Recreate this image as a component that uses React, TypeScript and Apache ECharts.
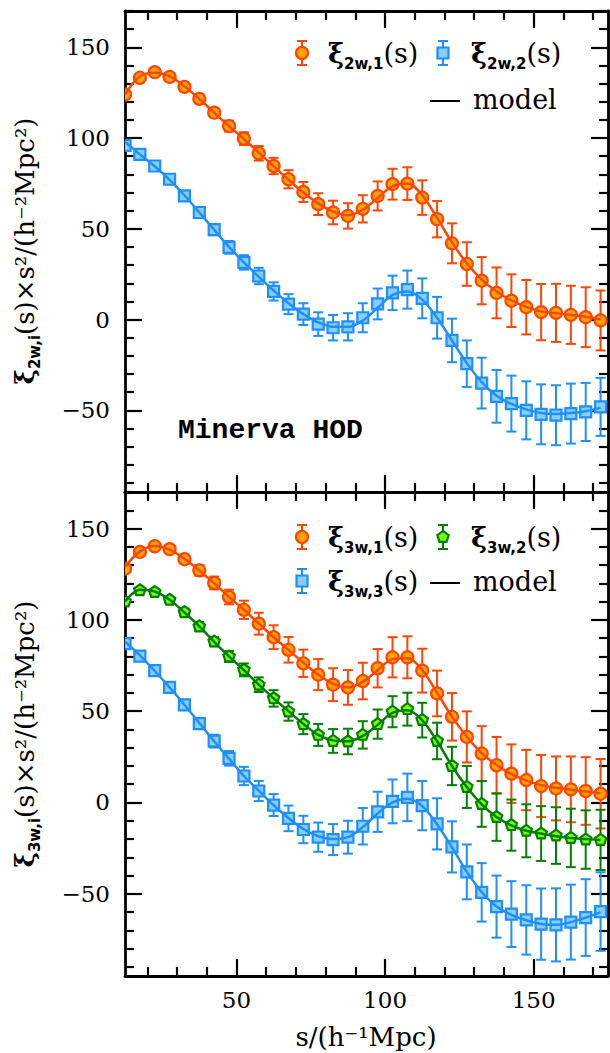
import React, { useEffect, useRef } from "react";
import * as echarts from "echarts";

// separation s (h^-1 Mpc), bin centres
const S = [12.5, 17.5, 22.5, 27.5, 32.5, 37.5, 42.5, 47.5, 52.5, 57.5, 62.5, 67.5, 72.5, 77.5, 82.5, 87.5, 92.5, 97.5, 102.5, 107.5, 112.5, 117.5, 122.5, 127.5, 132.5, 137.5, 142.5, 147.5, 152.5, 157.5, 162.5, 167.5, 172.5];

// top panel: xi_2w,1 and xi_2w,2
const xi2w1 = [124, 133.2, 136.3, 133.7, 128.2, 121.6, 114, 106.6, 99.7, 91.6, 84.6, 77.3, 70.3, 63.6, 59, 57.1, 61, 68.1, 74.6, 74.9, 67.2, 55.3, 42, 30.6, 21.4, 14.7, 10.4, 6.8, 4.1, 3.7, 2.6, 1.3, -0.5];
const xi2w1Err = [1.5, 1.5, 1.5, 2, 2, 2.5, 2.5, 3, 3.5, 4, 4.5, 5, 5.5, 6, 6.5, 7, 7.5, 8, 8.5, 9, 9.5, 10, 11, 12, 13, 14, 14.5, 15, 15.5, 16, 16, 16.5, 16.5];
const xi2w1Model = [124, 134, 136, 134, 128.5, 121.5, 114, 106.5, 99.5, 92, 84.5, 77, 70, 64, 59.5, 57.5, 60.5, 67, 73.5, 75, 68.5, 56, 42.5, 31, 22, 15.5, 10.5, 7, 4.5, 3.5, 2.5, 1.5, 0];

const xi2w2 = [96, 91, 84.6, 77.3, 68.1, 59, 49.5, 39.8, 31.5, 24, 15.5, 8.5, 3, -2.5, -4.5, -4, 1, 8.6, 14.7, 16.5, 11.7, 1, -11.5, -24.3, -35, -42.3, -46.3, -50, -52.2, -52.7, -51.8, -50.9, -48.1];
const xi2w2Err = [1.5, 1.5, 1.5, 2, 2, 2.5, 3, 3.5, 4, 4.5, 5, 5.5, 6, 6.5, 7, 7.5, 8, 8.5, 9.5, 10.5, 11, 11.5, 12, 12.8, 14, 14.5, 15.4, 16, 16.5, 16.5, 16.5, 16, 16];
const xi2w2Model = [98, 91, 84.5, 77, 68.5, 59, 49.5, 40, 31.5, 23.5, 16, 9, 3, -1.5, -4, -4, -0.5, 6.5, 13.5, 15.5, 11, 1, -11.5, -24, -34.5, -42, -46.5, -49.5, -51.5, -52, -51.5, -50.5, -48.5];

// bottom panel: xi_3w,1, xi_3w,2, xi_3w,3
const xi3w1 = [128, 137.2, 140.3, 138.7, 133.2, 127.1, 120.2, 112.5, 105.5, 97.9, 90.5, 83.6, 76.2, 70, 64.5, 63, 66.5, 73.5, 79.5, 79.5, 72.2, 59.7, 46.9, 35.9, 26.8, 20.4, 15.8, 12.3, 9, 7.7, 7.2, 6.3, 4.8];
const xi3w1Err = [1.5, 1.5, 1.5, 2, 2.5, 3, 3.5, 4, 5, 6, 6.5, 7, 7.5, 8.5, 9, 9.5, 10, 10.5, 11, 11.5, 12, 12.5, 13, 14, 15, 15.5, 16, 16.5, 17, 17.5, 18, 18.5, 19];
const xi3w1Model = [129, 137.5, 140.5, 138.5, 133.5, 127, 120, 112.5, 105.5, 98, 90.5, 83.5, 76.5, 70, 65, 63, 66, 72.5, 78.5, 79, 72.5, 60, 47, 36, 27, 20.5, 15.5, 12, 9.5, 8, 7, 6, 5];

const xi3w2 = [110, 116.2, 115.2, 111, 104.2, 96.4, 88.1, 79.9, 72.6, 64.5, 57, 49.8, 42.9, 37, 33.7, 33.4, 37, 42.9, 49.7, 51.1, 45.1, 33.7, 20, 8.5, -0.8, -8, -12.4, -15.5, -17, -18.1, -19.4, -20.3, -20.5];
const xi3w2Err = [1, 1, 1, 1.5, 2, 2.5, 2.5, 3, 3.5, 4, 4.5, 5, 5.5, 6, 6.5, 7, 7.5, 8, 8.5, 9, 9.5, 10, 10.5, 11.5, 12.5, 13, 14, 14.5, 15, 15.5, 16, 16, 16.5];
const xi3w2Model = [110, 116.5, 115.5, 111, 104, 96.5, 88, 80, 72.5, 64.5, 57, 50, 43, 37, 34, 33.5, 36.5, 42.5, 49, 50.5, 45, 33.5, 20, 8.5, -1, -8, -12.5, -15.5, -17, -18.5, -19.5, -20, -20.5];

const xi3w3 = [87, 80.1, 72.2, 63, 53.5, 43.2, 33.6, 24.2, 14.5, 6.3, -1.4, -8.7, -14.8, -19, -20.3, -19, -13, -5.1, 0.6, 2.8, -1.7, -11.7, -24.3, -38, -49.2, -57, -61.1, -64.3, -66.6, -67, -65.5, -63, -59.7];
const xi3w3Err = [1.5, 1.5, 2, 2, 2.5, 3, 3.5, 4, 5, 5.5, 6, 7, 7.5, 8, 8.5, 9, 10, 11, 12, 13, 13.5, 14, 14, 15, 16, 17, 18, 19, 19.5, 20, 20.5, 21, 21.5];
const xi3w3Model = [88, 80.5, 72, 63, 53.5, 43.5, 33.5, 24, 14.5, 6.5, -1.5, -8.5, -14.5, -18.5, -20, -19, -13.5, -6, 0, 2, -2, -12, -24.5, -38, -49, -57, -61.5, -64.5, -66.5, -67, -65.5, -63, -60];

// axes
const X_MIN = 12.5;
const X_MAX = 175;
const Y_MIN = -95;
const Y_MAX = 170;
const xMajorTicks = [50, 100, 150];
const xMinorTicks = [20, 30, 40, 60, 70, 80, 90, 110, 120, 130, 140, 160, 170];
const yMajorTicks = [-50, 0, 50, 100, 150];
const yMinorTicks = [-90, -80, -70, -60, -40, -30, -20, -10, 10, 20, 30, 40, 60, 70, 80, 90, 110, 120, 130, 140, 160, 170];

const ORANGE = { stroke: "#ff4500", fill: "#ffa500" };
const BLUE = { stroke: "#1e8fff", fill: "#87cefa" };
const GREEN = { stroke: "#008000", fill: "#7cfc00" };

const SERIF = "DejaVu Serif";

function markerEl(kind: string, cx: number, cy: number, c: any) {
  const style = { fill: c.fill, stroke: c.stroke, lineWidth: 2.2 };
  if (kind === "circle") return { type: "circle", shape: { cx, cy, r: 6 }, style };
  if (kind === "square") return { type: "rect", shape: { x: cx - 5.5, y: cy - 5.5, width: 11, height: 11 }, style };
  const pts: number[][] = [];
  for (let k = 0; k < 5; k++) {
    const a = (-90 + 72 * k) * Math.PI / 180;
    pts.push([cx + 6 * Math.cos(a), cy + 6 * Math.sin(a)]);
  }
  return { type: "polygon", shape: { points: pts }, style };
}

function errBarEls(cx: number, yHi: number, yLo: number, c: any) {
  const ls = { stroke: c.stroke, lineWidth: 2 };
  return [
    { type: "line", shape: { x1: cx, y1: yHi, x2: cx, y2: yLo }, style: ls },
    { type: "line", shape: { x1: cx - 5, y1: yHi, x2: cx + 5, y2: yHi }, style: ls },
    { type: "line", shape: { x1: cx - 5, y1: yLo, x2: cx + 5, y2: yLo }, style: ls },
  ];
}

function dataSeries(vals: number[], errs: number[], kind: string, c: any, axis: number) {
  return {
    type: "custom",
    xAxisIndex: axis,
    yAxisIndex: axis,
    clip: true,
    silent: true,
    z: 2,
    data: S.map((s, i) => [s, vals[i], errs[i]]),
    renderItem: (params: any, api: any) => {
      const x = api.value(0), y = api.value(1), e = api.value(2);
      const p = api.coord([x, y]);
      const hi = api.coord([x, y + e]);
      const lo = api.coord([x, y - e]);
      const cs = params.coordSys;
      return {
        type: "group",
        clipPath: { type: "rect", shape: { x: cs.x, y: cs.y, width: cs.width, height: cs.height } },
        children: [...errBarEls(p[0], hi[1], lo[1], c), markerEl(kind, p[0], p[1], c)],
      };
    },
  };
}

function modelSeries(model: number[], c: any, axis: number) {
  return {
    type: "line",
    xAxisIndex: axis,
    yAxisIndex: axis,
    data: S.map((s, i) => [s, model[i]]),
    smooth: 0.35,
    showSymbol: false,
    symbol: "none",
    silent: true,
    z: 3,
    clip: true,
    lineStyle: { color: c.stroke, width: 2.5 },
  };
}

const labelStyle = { fontFamily: SERIF, fontSize: 23, color: "#000" };
const minus = (v: number) => String(v).replace("-", "\u2212");

function xAxesFor(gi: number, showLabels: boolean) {
  const base = { gridIndex: gi, type: "value", min: X_MIN, max: X_MAX, splitLine: { show: false } };
  const mk = (pos: string, major: boolean, line: boolean, labels: boolean) => ({
    ...base,
    position: pos,
    axisLine: { show: line, onZero: false, lineStyle: { color: "#000", width: 2.8 } },
    axisTick: {
      show: true, inside: true, length: major ? 17 : 9,
      lineStyle: { color: "#000", width: 2.2 },
      customValues: major ? xMajorTicks : xMinorTicks,
    },
    axisLabel: { show: labels, customValues: major ? xMajorTicks : xMinorTicks, margin: 12, ...labelStyle },
  });
  return [mk("bottom", true, true, showLabels), mk("bottom", false, false, false), mk("top", true, true, false), mk("top", false, false, false)];
}

function yAxesFor(gi: number) {
  const base = { gridIndex: gi, type: "value", min: Y_MIN, max: Y_MAX, splitLine: { show: false } };
  const mk = (pos: string, major: boolean, line: boolean, labels: boolean) => ({
    ...base,
    position: pos,
    axisLine: { show: line, onZero: false, lineStyle: { color: "#000", width: 2.8 } },
    axisTick: {
      show: true, inside: true, length: major ? 17 : 9,
      lineStyle: { color: "#000", width: 2.2 },
      customValues: major ? yMajorTicks : yMinorTicks,
    },
    axisLabel: { show: labels, customValues: major ? yMajorTicks : yMinorTicks, margin: 15, formatter: minus, ...labelStyle },
  });
  return [mk("left", true, true, true), mk("left", false, false, false), mk("right", true, true, false), mk("right", false, false, false)];
}

function legendIcon(kind: string, cx: number, cy: number, c: any) {
  return { type: "group", children: [...errBarEls(cx, cy - 12, cy + 12, c), markerEl(kind, cx, cy, c)] };
}

const richXi = {
  a: { fontFamily: SERIF, fontSize: 27, lineHeight: 36, verticalAlign: "middle", fill: "#000" },
  x: { fontFamily: SERIF, fontSize: 27, fontWeight: "bold", lineHeight: 36, verticalAlign: "middle", fill: "#000" },
  b: { fontFamily: "DejaVu Sans", fontWeight: "bold", fontSize: 15, lineHeight: 15, verticalAlign: "bottom", fill: "#000" },
};

function xiLabel(sub: string, x: number, y: number) {
  return {
    type: "text", x, y,
    style: { text: `{x|ξ}{b|${sub}}{a|(s)}`, rich: richXi, align: "left", verticalAlign: "middle" },
  };
}

function modelLegend(x: number, y: number) {
  return [
    { type: "line", shape: { x1: x, y1: y + 2, x2: x + 30, y2: y + 2 }, style: { stroke: "#000", lineWidth: 2 } },
    { type: "text", x: x + 43, y, style: { text: "model", fontFamily: SERIF, fontSize: 27, fill: "#000", align: "left", verticalAlign: "middle" } },
  ];
}

function yTitle(sub: string, x: number, y: number) {
  return {
    type: "text", x, y, rotation: Math.PI / 2,
    style: {
      text: `{x|ξ}{b|${sub}}{a|(s)×s²/(h⁻²Mpc²)}`,
      rich: {
        a: { fontFamily: SERIF, fontSize: 26, lineHeight: 34, verticalAlign: "middle", fill: "#000" },
        x: { fontFamily: SERIF, fontSize: 26, fontWeight: "bold", lineHeight: 34, verticalAlign: "middle", fill: "#000" },
        b: { fontFamily: "DejaVu Sans", fontWeight: "bold", fontSize: 15, lineHeight: 15, verticalAlign: "bottom", fill: "#000" },
      },
      align: "center", verticalAlign: "middle",
    },
  };
}

export default function App() {
  const ref = useRef<HTMLDivElement>(null);
  useEffect(() => {
    if (!ref.current) return;
    const chart = echarts.init(ref.current, undefined, { renderer: "svg" });
    const option: any = {
      animation: false,
      backgroundColor: "#fff",
      grid: [
        { left: 125, width: 483, top: 11, height: 481 },
        { left: 125, width: 483, top: 492, height: 484 },
      ],
      xAxis: [...xAxesFor(0, false), ...xAxesFor(1, true)],
      yAxis: [...yAxesFor(0), ...yAxesFor(1)],
      series: [
        dataSeries(xi2w1, xi2w1Err, "circle", ORANGE, 0),
        dataSeries(xi2w2, xi2w2Err, "square", BLUE, 0),
        modelSeries(xi2w1Model, ORANGE, 0),
        modelSeries(xi2w2Model, BLUE, 0),
        dataSeries(xi3w1, xi3w1Err, "circle", ORANGE, 4),
        dataSeries(xi3w2, xi3w2Err, "pentagon", GREEN, 4),
        dataSeries(xi3w3, xi3w3Err, "square", BLUE, 4),
        modelSeries(xi3w1Model, ORANGE, 4),
        modelSeries(xi3w2Model, GREEN, 4),
        modelSeries(xi3w3Model, BLUE, 4),
      ],
      graphic: [
        legendIcon("circle", 302, 53, ORANGE),
        xiLabel("2w,1", 328, 53),
        legendIcon("square", 443, 53, BLUE),
        xiLabel("2w,2", 471, 53),
        ...modelLegend(430, 99),
        { type: "text", x: 178, y: 430, style: { text: "Minerva HOD", fontFamily: "Liberation Mono", fontWeight: "bold", fontSize: 28, fill: "#000", align: "left", verticalAlign: "middle" } },
        legendIcon("circle", 302, 537, ORANGE),
        xiLabel("3w,1", 328, 537),
        legendIcon("pentagon", 443, 537, GREEN),
        xiLabel("3w,2", 471, 537),
        legendIcon("square", 302, 581, BLUE),
        xiLabel("3w,3", 328, 581),
        ...modelLegend(430, 581),
        yTitle("2w,i", 25, 251),
        yTitle("3w,i", 25, 734),
        { type: "text", x: 366, y: 1037, style: { text: "s/(h⁻¹Mpc)", fontFamily: SERIF, fontSize: 26, fill: "#000", align: "center", verticalAlign: "middle" } },
      ],
    };
    chart.setOption(option);
    return () => chart.dispose();
  }, []);
  return (
    <div
      ref={ref}
      style={{ position: "fixed", left: 0, top: 0, width: 610, height: 1053, background: "#fff" }}
    />
  );
}
